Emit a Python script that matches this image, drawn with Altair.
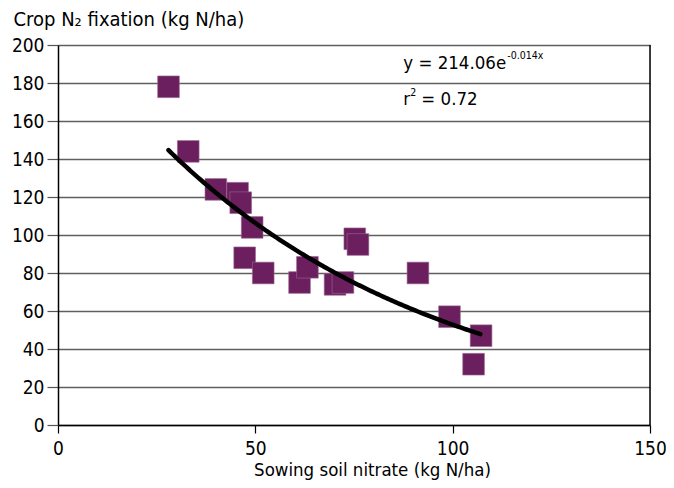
import altair as alt
import pandas as pd

# Scatter data
nitrate = [28, 33, 40, 45.5, 46.3, 49.2, 47.3, 52, 61.2, 63.2, 70.2, 72.2, 75.2, 76, 91.2, 99.2, 107.2, 105.3]
fixation = [178, 144, 124, 122, 117, 104, 88, 80, 75, 83, 74, 75, 98, 95, 80, 57, 47, 32]

# Fitted exponential trend stated on the chart: y = 214.06 e^(-0.014 x)
fit_a = 214.06
fit_b = -0.014
fit_range = [28, 107]

x_ticks = [0, 50, 100, 150]
y_ticks = [0, 20, 40, 60, 80, 100, 120, 140, 160, 180, 200]

FONT = "DejaVu Sans Condensed, Liberation Sans, sans-serif"
PURPLE = "#6C1F5E"

pts = pd.DataFrame({"x": nitrate, "y": fixation})

xscale = alt.Scale(domain=[0, 150], nice=False, zero=True)
yscale = alt.Scale(domain=[0, 200], nice=False, zero=True)

xaxis = alt.Axis(values=x_ticks, title="Sowing soil nitrate (kg N/ha)", grid=False,
                 domainColor="black", domainWidth=1.5, tickColor="black", tickSize=8,
                 tickWidth=1.2, labelFont=FONT, labelFontSize=19, labelColor="black",
                 labelPadding=6, labelOverlap=False, titleFont=FONT, titleFontSize=18.5,
                 titleFontWeight="normal", titleColor="black",
                 titleX=314, titleY=50, titleAlign="center", titleBaseline="alphabetic",
                 labelFlush=False)
yaxis = alt.Axis(values=y_ticks, title="Crop N\u2082 fixation (kg N/ha)", grid=True,
                 gridColor="#5f5f5f", gridWidth=1.5, domainColor="black", domainWidth=1.5,
                 tickColor="#555555", tickSize=11, tickWidth=1.2, labelFont=FONT,
                 labelFontSize=19, labelColor="black", labelPadding=3, labelOverlap=False,
                 titleFont=FONT, titleFontSize=20, titleFontWeight="normal", titleColor="black",
                 titleAngle=0, titleAlign="left", titleBaseline="alphabetic",
                 titleX=-45, titleY=-20)

X = alt.X("x:Q", scale=xscale, axis=xaxis)
Y = alt.Y("y:Q", scale=yscale, axis=yaxis)

points = alt.Chart(pts).mark_square(size=470, color=PURPLE, opacity=1,
                                    stroke="#9a6a90", strokeWidth=0.6).encode(x=X, y=Y)

trend = alt.Chart(alt.sequence(fit_range[0], fit_range[1] + 0.5, 0.5, as_="x")).transform_calculate(
    y=f"{fit_a} * exp({fit_b} * datum.x)"
).mark_line(color="black", strokeWidth=4.5, strokeCap="round").encode(x=X, y=Y)

right_border = alt.Chart(pd.DataFrame({"x": [150]})).mark_rule(color="black", strokeWidth=1.5).encode(
    x=X,
    y=alt.value(0),
    y2=alt.value(380),
)


def txt(df, text, size, dx=0, dy=0):
    return alt.Chart(df).mark_text(text=text, font=FONT, fontSize=size, align="left",
                                   baseline="alphabetic", color="black", dx=dx, dy=dy).encode(x=X, y=Y)


eq_df = pd.DataFrame({"x": [87.5], "y": [187.5]})
r2_df = pd.DataFrame({"x": [87.5], "y": [168.5]})
eq_main = txt(eq_df, "y = 214.06e", 18.5)
eq_sup = txt(eq_df, "-0.014x", 10.5, dx=104, dy=-10)
r2_main = txt(r2_df, "r", 18.5)
r2_sup = txt(r2_df, "2", 10.5, dx=7, dy=-9)
r2_rest = txt(r2_df, "= 0.72", 18.5, dx=18)

chart = alt.layer(points, trend, right_border, eq_main, eq_sup, r2_main, r2_sup, r2_rest).properties(
    width=592, height=380,
    autosize=alt.AutoSizeParams(type="none"),
    padding={"left": 50, "top": 37, "right": 16, "bottom": 55},
).configure_view(strokeWidth=0).configure(background="white")

chart.save("out.html", embed_options={"renderer": "svg", "actions": False})
